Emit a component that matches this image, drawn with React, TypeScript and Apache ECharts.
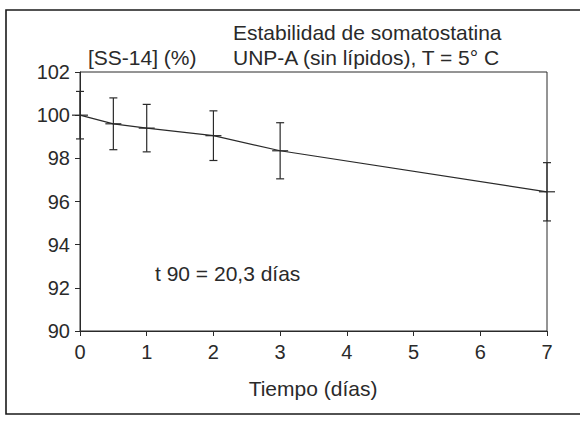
import React, { useEffect, useRef } from "react";
import * as echarts from "echarts";

const times = [0, 0.5, 1, 2, 3, 7];
const means = [100, 99.6, 99.4, 99.05, 98.35, 96.45];
const errors = [1.1, 1.2, 1.1, 1.15, 1.3, 1.35];
const xTicks = [0, 1, 2, 3, 4, 5, 6, 7];
const yTicks = [90, 92, 94, 96, 98, 100, 102];

const titleLine1 = "Estabilidad de somatostatina";
const titleLine2 = "UNP-A (sin lípidos), T = 5° C";
const yAxisTitle = "[SS-14] (%)";
const annotation = "t 90 = 20,3 días";
const xAxisTitle = "Tiempo (días)";

const FONT = "'Liberation Sans', Arial, Helvetica, sans-serif";
const INK = "#2a2a2a";

export default function App() {
  const ref = useRef<HTMLDivElement>(null);
  useEffect(() => {
    document.body.style.margin = "0";
    if (!ref.current) return;
    const chart = echarts.init(ref.current, undefined, { renderer: "svg" });
    const errData = times.map((t, i) => [t, means[i], means[i] - errors[i], means[i] + errors[i]]);
    chart.setOption({
      animation: false,
      backgroundColor: "#ffffff",
      grid: {
        left: 80,
        right: 34,
        top: 72,
        bottom: 92,
        show: true,
        borderColor: INK,
        borderWidth: 1,
        backgroundColor: "transparent",
      },
      xAxis: {
        type: "value",
        min: 0,
        max: 7,
        interval: 1,
        axisLine: { show: true, lineStyle: { color: INK, width: 1 } },
        axisTick: { show: true, length: 5, lineStyle: { color: INK } },
        splitLine: { show: false },
        axisLabel: {
          color: INK,
          fontFamily: FONT,
          fontSize: 20,
          margin: 11,
          formatter: (v: number) => (xTicks.includes(v) ? String(v) : ""),
        },
      },
      yAxis: {
        type: "value",
        min: 90,
        max: 102,
        interval: 2,
        axisLine: { show: true, lineStyle: { color: INK, width: 1 } },
        axisTick: { show: true, length: 5, lineStyle: { color: INK } },
        splitLine: { show: false },
        axisLabel: {
          color: INK,
          fontFamily: FONT,
          fontSize: 20,
          margin: 10,
          formatter: (v: number) => (yTicks.includes(v) ? String(v) : ""),
        },
      },
      series: [
        {
          type: "line",
          data: times.map((t, i) => [t, means[i]]),
          showSymbol: false,
          symbol: "none",
          lineStyle: { color: INK, width: 1.2 },
          z: 3,
        },
        {
          type: "custom",
          data: errData,
          z: 4,
          renderItem: (params: any, api: any) => {
            const x = api.value(0);
            const c = api.coord([x, api.value(1)]);
            const lo = api.coord([x, api.value(2)]);
            const hi = api.coord([x, api.value(3)]);
            const style = { stroke: INK, lineWidth: 1.2 };
            const cap = 4;
            const mk = 8;
            return {
              type: "group",
              children: [
                { type: "line", shape: { x1: hi[0], y1: hi[1], x2: lo[0], y2: lo[1] }, style },
                { type: "line", shape: { x1: hi[0] - cap, y1: hi[1], x2: hi[0] + cap, y2: hi[1] }, style },
                { type: "line", shape: { x1: lo[0] - cap, y1: lo[1], x2: lo[0] + cap, y2: lo[1] }, style },
                { type: "line", shape: { x1: c[0] - mk, y1: c[1], x2: c[0] + mk, y2: c[1] }, style },
              ],
            };
          },
        },
      ],
      graphic: [
        {
          type: "polyline",
          shape: { points: [[580, 10], [6, 10], [6, 414], [580, 414]] },
          style: { stroke: "#1a1a1a", lineWidth: 1.6, fill: "none" },
          silent: true,
        },
        {
          type: "text",
          x: 233,
          y: 32,
          style: { text: titleLine1, font: `21px ${FONT}`, fill: INK, textAlign: "left", textVerticalAlign: "middle" },
        },
        {
          type: "text",
          x: 233,
          y: 57,
          style: { text: titleLine2, font: `21px ${FONT}`, fill: INK, textAlign: "left", textVerticalAlign: "middle" },
        },
        {
          type: "text",
          x: 88,
          y: 57,
          style: { text: yAxisTitle, font: `21px ${FONT}`, fill: INK, textAlign: "left", textVerticalAlign: "middle" },
        },
        {
          type: "text",
          x: 155,
          y: 273,
          style: { text: annotation, font: `21px ${FONT}`, fill: INK, textAlign: "left", textVerticalAlign: "middle" },
        },
        {
          type: "text",
          x: 313,
          y: 388,
          style: { text: xAxisTitle, font: `21px ${FONT}`, fill: INK, textAlign: "center", textVerticalAlign: "middle" },
        },
      ],
    });
    return () => chart.dispose();
  }, []);
  return <div ref={ref} style={{ width: 581, height: 423 }} />;
}
